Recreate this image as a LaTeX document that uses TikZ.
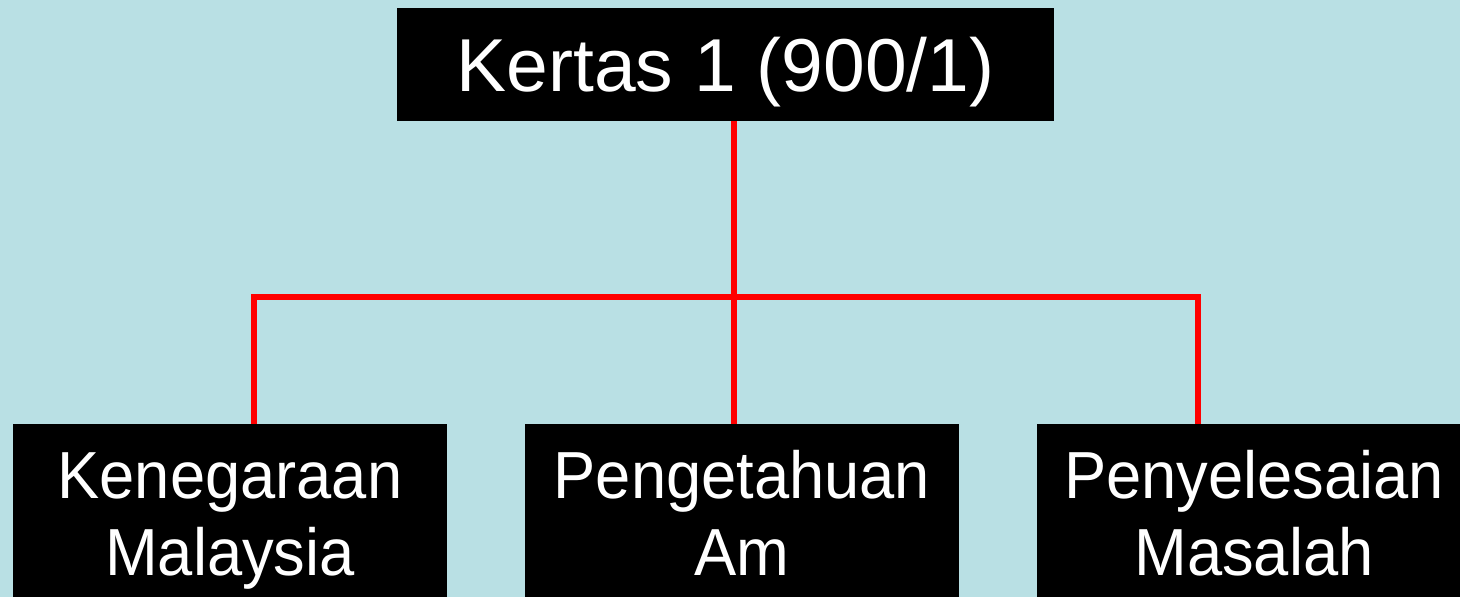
\documentclass[tikz,border=0pt]{standalone}
\usepackage{fontspec}
\setmainfont{Liberation Sans}
\newfontfamily\narrowsans[FakeStretch=0.95]{Liberation Sans}
\definecolor{bg}{RGB}{185,224,228}
\definecolor{conred}{RGB}{255,0,0}
\begin{document}
\begin{tikzpicture}[x=1pt,y=-1pt,
  box/.style={fill=black,inner sep=0pt,draw=none,rectangle},
  lbl/.style={text=white,inner sep=0pt,anchor=base,font=\narrowsans\fontsize{66.6}{76}\selectfont},
  conn/.style={draw=conred,line width=5.6pt,line join=miter}]
\fill[bg] (0,0) rectangle (1460,597);
\useasboundingbox (0,0) rectangle (1460,597);
% top box
\node[box,minimum width=657,minimum height=113,text=white,text height=54,text depth=0,
  font=\fontsize{75}{86}\selectfont] (top) at (725.5,64.5) {Kertas 1 (900/1)};
% bottom boxes
\node[box,minimum width=434,minimum height=200] (b1) at (230,524) {};
\node[box,minimum width=434,minimum height=200] (b2) at (742,524) {};
\node[box,minimum width=434,minimum height=200] (b3) at (1254,524) {};
\node[lbl] (b1a) at (230,498) {Kenegaraan};
\node[lbl] (b1b) at (230,575) {Malaysia};
\node[lbl] (b2a) at (742,498) {Pengetahuan};
\node[lbl] (b2b) at (742,575) {Am};
\node[lbl] (b3a) at (1254,498) {Penyelesaian};
\node[lbl] (b3b) at (1254,575) {Masalah};
% connectors
\coordinate (j1) at (254,297);
\coordinate (j2) at (734,297);
\coordinate (j3) at (1198,297);
\draw[conn] (top.south -| j2) -- (j2 |- b2.north);
\draw[conn] (j1 |- b1.north) -- (j1) -- (j3) -- (j3 |- b3.north);
\end{tikzpicture}
\end{document}
